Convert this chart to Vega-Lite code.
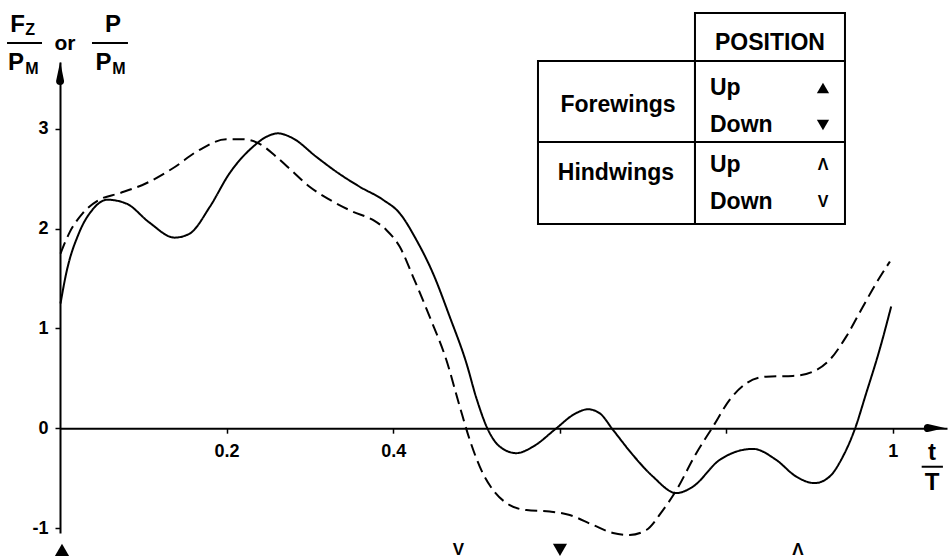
{
  "$schema": "https://vega.github.io/schema/vega-lite/v6.json",
  "width": 887,
  "height": 471,
  "autosize": "none",
  "padding": {"left": 60, "top": 62, "right": 1, "bottom": 26},
  "background": "white",
  "config": {"view": {"stroke": null}, "font": "Liberation Sans"},
  "datasets": {
    "curves": [
      {"t": 0.0006, "value": 1.25, "series": "Fz/PM"},
      {"t": 0.0074, "value": 1.55, "series": "Fz/PM"},
      {"t": 0.023, "value": 1.96, "series": "Fz/PM"},
      {"t": 0.039, "value": 2.19, "series": "Fz/PM"},
      {"t": 0.057, "value": 2.29, "series": "Fz/PM"},
      {"t": 0.08, "value": 2.25, "series": "Fz/PM"},
      {"t": 0.1075, "value": 2.06, "series": "Fz/PM"},
      {"t": 0.1375, "value": 1.91, "series": "Fz/PM"},
      {"t": 0.1556, "value": 1.95, "series": "Fz/PM"},
      {"t": 0.18, "value": 2.22, "series": "Fz/PM"},
      {"t": 0.2036, "value": 2.555, "series": "Fz/PM"},
      {"t": 0.2316, "value": 2.82, "series": "Fz/PM"},
      {"t": 0.2477, "value": 2.92, "series": "Fz/PM"},
      {"t": 0.2616, "value": 2.955, "series": "Fz/PM"},
      {"t": 0.2797, "value": 2.905, "series": "Fz/PM"},
      {"t": 0.3077, "value": 2.72, "series": "Fz/PM"},
      {"t": 0.3318, "value": 2.57, "series": "Fz/PM"},
      {"t": 0.3598, "value": 2.42, "series": "Fz/PM"},
      {"t": 0.3877, "value": 2.29, "series": "Fz/PM"},
      {"t": 0.4078, "value": 2.155, "series": "Fz/PM"},
      {"t": 0.4279, "value": 1.887, "series": "Fz/PM"},
      {"t": 0.4478, "value": 1.553, "series": "Fz/PM"},
      {"t": 0.4679, "value": 1.118, "series": "Fz/PM"},
      {"t": 0.488, "value": 0.651, "series": "Fz/PM"},
      {"t": 0.5, "value": 0.3, "series": "Fz/PM"},
      {"t": 0.514, "value": -0.017, "series": "Fz/PM"},
      {"t": 0.528, "value": -0.184, "series": "Fz/PM"},
      {"t": 0.548, "value": -0.25, "series": "Fz/PM"},
      {"t": 0.568, "value": -0.184, "series": "Fz/PM"},
      {"t": 0.596, "value": 0.0, "series": "Fz/PM"},
      {"t": 0.616, "value": 0.133, "series": "Fz/PM"},
      {"t": 0.634, "value": 0.19, "series": "Fz/PM"},
      {"t": 0.648, "value": 0.15, "series": "Fz/PM"},
      {"t": 0.664, "value": -0.017, "series": "Fz/PM"},
      {"t": 0.688, "value": -0.27, "series": "Fz/PM"},
      {"t": 0.712, "value": -0.485, "series": "Fz/PM"},
      {"t": 0.74, "value": -0.65, "series": "Fz/PM"},
      {"t": 0.76, "value": -0.585, "series": "Fz/PM"},
      {"t": 0.792, "value": -0.318, "series": "Fz/PM"},
      {"t": 0.832, "value": -0.207, "series": "Fz/PM"},
      {"t": 0.86, "value": -0.318, "series": "Fz/PM"},
      {"t": 0.884, "value": -0.485, "series": "Fz/PM"},
      {"t": 0.906, "value": -0.55, "series": "Fz/PM"},
      {"t": 0.924, "value": -0.485, "series": "Fz/PM"},
      {"t": 0.94, "value": -0.284, "series": "Fz/PM"},
      {"t": 0.954, "value": -0.017, "series": "Fz/PM"},
      {"t": 0.968, "value": 0.351, "series": "Fz/PM"},
      {"t": 0.984, "value": 0.785, "series": "Fz/PM"},
      {"t": 0.998, "value": 1.22, "series": "Fz/PM"},
      {"t": 0.0006, "value": 1.75, "series": "P/PM"},
      {"t": 0.0114, "value": 1.96, "series": "P/PM"},
      {"t": 0.0274, "value": 2.155, "series": "P/PM"},
      {"t": 0.0474, "value": 2.29, "series": "P/PM"},
      {"t": 0.0715, "value": 2.355, "series": "P/PM"},
      {"t": 0.1035, "value": 2.455, "series": "P/PM"},
      {"t": 0.1355, "value": 2.605, "series": "P/PM"},
      {"t": 0.1676, "value": 2.79, "series": "P/PM"},
      {"t": 0.1996, "value": 2.896, "series": "P/PM"},
      {"t": 0.2196, "value": 2.896, "series": "P/PM"},
      {"t": 0.2396, "value": 2.85, "series": "P/PM"},
      {"t": 0.2597, "value": 2.72, "series": "P/PM"},
      {"t": 0.2797, "value": 2.57, "series": "P/PM"},
      {"t": 0.2997, "value": 2.42, "series": "P/PM"},
      {"t": 0.3237, "value": 2.29, "series": "P/PM"},
      {"t": 0.3517, "value": 2.17, "series": "P/PM"},
      {"t": 0.3757, "value": 2.087, "series": "P/PM"},
      {"t": 0.3918, "value": 1.987, "series": "P/PM"},
      {"t": 0.4078, "value": 1.82, "series": "P/PM"},
      {"t": 0.4238, "value": 1.52, "series": "P/PM"},
      {"t": 0.4438, "value": 1.118, "series": "P/PM"},
      {"t": 0.4639, "value": 0.684, "series": "P/PM"},
      {"t": 0.48, "value": 0.216, "series": "P/PM"},
      {"t": 0.492, "value": -0.117, "series": "P/PM"},
      {"t": 0.504, "value": -0.385, "series": "P/PM"},
      {"t": 0.52, "value": -0.62, "series": "P/PM"},
      {"t": 0.54, "value": -0.77, "series": "P/PM"},
      {"t": 0.56, "value": -0.82, "series": "P/PM"},
      {"t": 0.588, "value": -0.835, "series": "P/PM"},
      {"t": 0.612, "value": -0.87, "series": "P/PM"},
      {"t": 0.64, "value": -0.97, "series": "P/PM"},
      {"t": 0.664, "value": -1.05, "series": "P/PM"},
      {"t": 0.684, "value": -1.07, "series": "P/PM"},
      {"t": 0.704, "value": -1.02, "series": "P/PM"},
      {"t": 0.724, "value": -0.82, "series": "P/PM"},
      {"t": 0.738, "value": -0.65, "series": "P/PM"},
      {"t": 0.764, "value": -0.25, "series": "P/PM"},
      {"t": 0.784, "value": 0.016, "series": "P/PM"},
      {"t": 0.804, "value": 0.284, "series": "P/PM"},
      {"t": 0.824, "value": 0.45, "series": "P/PM"},
      {"t": 0.848, "value": 0.517, "series": "P/PM"},
      {"t": 0.88, "value": 0.524, "series": "P/PM"},
      {"t": 0.904, "value": 0.567, "series": "P/PM"},
      {"t": 0.924, "value": 0.684, "series": "P/PM"},
      {"t": 0.944, "value": 0.918, "series": "P/PM"},
      {"t": 0.964, "value": 1.218, "series": "P/PM"},
      {"t": 0.98, "value": 1.453, "series": "P/PM"},
      {"t": 0.9964, "value": 1.67, "series": "P/PM"}
    ],
    "arrows": [
      {"axis": "x", "t": 1.042, "value": 0.001, "end": "base"},
      {"axis": "x", "t": 1.0626, "value": 0.002, "end": "tip"},
      {"axis": "y", "t": 0.0001, "value": 3.48, "end": "base"},
      {"axis": "y", "t": 0.0002, "value": 3.67, "end": "tip"}
    ],
    "table": [
      {"t": 0.7624, "t2": 0.9425, "value": 3.68, "value2": 4.161},
      {"t": 0.5739, "t2": 0.7624, "value": 2.868, "value2": 3.68},
      {"t": 0.7624, "t2": 0.9425, "value": 2.868, "value2": 3.68},
      {"t": 0.5739, "t2": 0.7624, "value": 2.047, "value2": 2.868},
      {"t": 0.7624, "t2": 0.9425, "value": 2.047, "value2": 2.868}
    ],
    "tableHeads": [
      {"label": "POSITION", "t": 0.8524, "value": 3.865},
      {"label": "Forewings", "t": 0.67, "value": 3.239},
      {"label": "Hindwings", "t": 0.6675, "value": 2.558}
    ],
    "tableRows": [
      {"label": "Up", "t": 0.7804, "value": 3.409},
      {"label": "Down", "t": 0.7804, "value": 3.039},
      {"label": "Up", "t": 0.7804, "value": 2.638},
      {"label": "Down", "t": 0.7804, "value": 2.267}
    ],
    "symbols": [
      {"wing": "Forewings", "dir": "Up", "label": "▲", "t": 0.9161, "value": 3.409},
      {"wing": "Forewings", "dir": "Down", "label": "▼", "t": 0.9161, "value": 3.039},
      {"wing": "Hindwings", "dir": "Up", "label": "Λ", "t": 0.9161, "value": 2.638},
      {"wing": "Hindwings", "dir": "Down", "label": "V", "t": 0.9161, "value": 2.267}
    ],
    "events": [
      {"wing": "Forewings", "dir": "Up", "label": "▲", "t": 0.0024},
      {"wing": "Hindwings", "dir": "Down", "label": "V", "t": 0.4785},
      {"wing": "Forewings", "dir": "Down", "label": "▼", "t": 0.6003},
      {"wing": "Hindwings", "dir": "Up", "label": "Λ", "t": 0.886}
    ],
    "bigLetters": [
      {"label": "F", "t": -0.051, "value": 4.041},
      {"label": "P", "t": -0.0528, "value": 3.66},
      {"label": "P", "t": 0.0636, "value": 4.041},
      {"label": "P", "t": 0.0522, "value": 3.66},
      {"label": "t", "t": 1.047, "value": -0.248},
      {"label": "T", "t": 1.047, "value": -0.549}
    ],
    "midWords": [
      {"label": "or", "t": 0.006, "value": 3.85}
    ],
    "subs": [
      {"label": "Z", "t": -0.036, "value": 3.991},
      {"label": "M", "t": -0.0336, "value": 3.6},
      {"label": "M", "t": 0.0708, "value": 3.6}
    ],
    "bars": [
      {"t": -0.0636, "t2": -0.0216, "value": 3.86},
      {"t": 0.0384, "t2": 0.0816, "value": 3.86},
      {"t": 1.0346, "t2": 1.0601, "value": -0.386}
    ]
  },
  "layer": [
    {
      "data": {"name": "curves"},
      "mark": {"type": "line", "interpolate": "monotone", "color": "black", "strokeWidth": 2},
      "encoding": {
        "x": {
          "field": "t", "type": "quantitative",
          "scale": {"domain": [0, 1.065], "nice": false, "zero": false},
          "axis": {
            "orient": "bottom", "offset": -104.8, "title": null, "grid": false, "zindex": 0,
            "values": [0.2, 0.4, 0.6, 0.8, 1],
            "labelExpr": "datum.value == 1 ? '1' : (datum.value == 0.2 ? '0.2' : (datum.value == 0.4 ? '0.4' : ''))",
            "domainColor": "black", "domainWidth": 2, "tickColor": "black", "tickWidth": 1.5, "tickSize": 5,
            "labelFont": "Liberation Sans", "labelFontWeight": "bold", "labelFontSize": 18, "labelColor": "black",
            "labelPadding": 9
          }
        },
        "y": {
          "field": "value", "type": "quantitative",
          "scale": {"domain": [-1.05, 3.67], "nice": false, "zero": false},
          "axis": {
            "orient": "left", "title": null, "grid": false, "zindex": 0,
            "values": [-1, 0, 1, 2, 3],
            "labelExpr": "'' + datum.value",
            "domainColor": "black", "domainWidth": 2, "tickColor": "black", "tickWidth": 1.5, "tickSize": 5,
            "labelFont": "Liberation Sans", "labelFontWeight": "bold", "labelFontSize": 18, "labelColor": "black",
            "labelPadding": 7
          }
        },
        "strokeDash": {
          "field": "series", "type": "nominal",
          "scale": {"domain": ["Fz/PM", "P/PM"], "range": [[1, 0], [12, 6]]},
          "legend": null
        }
      }
    },
    {
      "data": {"name": "arrows"},
      "mark": {"type": "trail", "color": "black"},
      "encoding": {
        "x": {"field": "t", "type": "quantitative"},
        "y": {"field": "value", "type": "quantitative"},
        "detail": {"field": "axis", "type": "nominal"},
        "order": {"field": "end", "type": "nominal"},
        "size": {"field": "end", "type": "nominal", "scale": {"domain": ["base", "tip"], "range": [8, 0.1]}, "legend": null}
      }
    },
    {
      "data": {"name": "table"},
      "mark": {"type": "rect", "fill": "transparent", "stroke": "black", "strokeWidth": 2},
      "encoding": {
        "x": {"field": "t", "type": "quantitative"},
        "x2": {"field": "t2"},
        "y": {"field": "value", "type": "quantitative"},
        "y2": {"field": "value2"}
      }
    },
    {
      "data": {"name": "tableHeads"},
      "mark": {"type": "text", "font": "Liberation Sans", "fontWeight": "bold", "fontSize": 23, "align": "center", "baseline": "middle", "color": "black"},
      "encoding": {
        "x": {"field": "t", "type": "quantitative"},
        "y": {"field": "value", "type": "quantitative"},
        "text": {"field": "label"}
      }
    },
    {
      "data": {"name": "tableRows"},
      "mark": {"type": "text", "font": "Liberation Sans", "fontWeight": "bold", "fontSize": 23, "align": "left", "baseline": "middle", "color": "black"},
      "encoding": {
        "x": {"field": "t", "type": "quantitative"},
        "y": {"field": "value", "type": "quantitative"},
        "text": {"field": "label"}
      }
    },
    {
      "data": {"name": "symbols"},
      "transform": [{"filter": "datum.wing == 'Forewings'"}],
      "mark": {"type": "point", "filled": true, "color": "black", "opacity": 1, "size": 150},
      "encoding": {
        "x": {"field": "t", "type": "quantitative"},
        "y": {"field": "value", "type": "quantitative"},
        "shape": {"field": "dir", "type": "nominal", "scale": {"domain": ["Up", "Down"], "range": ["triangle-up", "triangle-down"]}, "legend": null}
      }
    },
    {
      "data": {"name": "symbols"},
      "transform": [{"filter": "datum.wing == 'Hindwings'"}],
      "mark": {"type": "text", "font": "Liberation Sans", "fontWeight": "bold", "fontSize": 16, "align": "center", "baseline": "middle", "color": "black"},
      "encoding": {
        "x": {"field": "t", "type": "quantitative"},
        "y": {"field": "value", "type": "quantitative"},
        "text": {"field": "label"}
      }
    },
    {
      "data": {"name": "events"},
      "transform": [{"filter": "datum.wing == 'Forewings'"}],
      "mark": {"type": "point", "filled": true, "color": "black", "opacity": 1, "size": 200},
      "encoding": {
        "x": {"field": "t", "type": "quantitative"},
        "y": {"datum": -1.22, "type": "quantitative"},
        "shape": {"field": "dir", "type": "nominal", "scale": {"domain": ["Up", "Down"], "range": ["triangle-up", "triangle-down"]}, "legend": null}
      }
    },
    {
      "data": {"name": "events"},
      "transform": [{"filter": "datum.wing == 'Hindwings'"}],
      "mark": {"type": "text", "font": "Liberation Sans", "fontWeight": "bold", "fontSize": 17, "align": "center", "baseline": "middle", "color": "black"},
      "encoding": {
        "x": {"field": "t", "type": "quantitative"},
        "y": {"datum": -1.22, "type": "quantitative"},
        "text": {"field": "label"}
      }
    },
    {
      "data": {"name": "bigLetters"},
      "mark": {"type": "text", "font": "Liberation Sans", "fontWeight": "bold", "fontSize": 24, "align": "center", "baseline": "middle", "color": "black"},
      "encoding": {
        "x": {"field": "t", "type": "quantitative"},
        "y": {"field": "value", "type": "quantitative"},
        "text": {"field": "label"}
      }
    },
    {
      "data": {"name": "midWords"},
      "mark": {"type": "text", "font": "Liberation Sans", "fontWeight": "bold", "fontSize": 21, "align": "center", "baseline": "middle", "color": "black"},
      "encoding": {
        "x": {"field": "t", "type": "quantitative"},
        "y": {"field": "value", "type": "quantitative"},
        "text": {"field": "label"}
      }
    },
    {
      "data": {"name": "subs"},
      "mark": {"type": "text", "font": "Liberation Sans", "fontWeight": "bold", "fontSize": 16, "align": "center", "baseline": "middle", "color": "black"},
      "encoding": {
        "x": {"field": "t", "type": "quantitative"},
        "y": {"field": "value", "type": "quantitative"},
        "text": {"field": "label"}
      }
    },
    {
      "data": {"name": "bars"},
      "mark": {"type": "rule", "color": "black", "strokeWidth": 2},
      "encoding": {
        "x": {"field": "t", "type": "quantitative"},
        "x2": {"field": "t2"},
        "y": {"field": "value", "type": "quantitative"}
      }
    }
  ]
}
